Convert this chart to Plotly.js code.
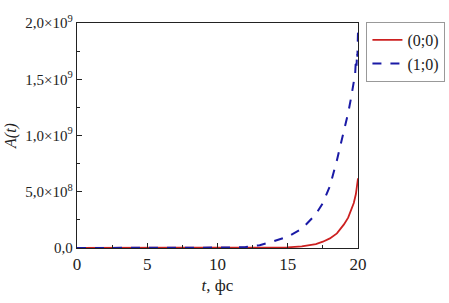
<!DOCTYPE html>
<html><head><meta charset="utf-8">
<script src="https://cdn.plot.ly/plotly-3.0.1.min.js"></script>
<style>html,body{margin:0;padding:0;background:#fff}#c{width:449px;height:303px}
#c text{font-family:"Liberation Serif","Times New Roman",serif !important;}</style>
</head><body><div id="c"></div>
<script>
const t00 = [0,2,4,6,8,10,11,12,13,14,15,16,16.5,17,17.5,18,18.5,19,19.3,19.5,19.7,19.85,20];
const A00 = [0,0,0,0,0,0.0002e9,0.0005e9,0.001e9,0.002e9,0.003e9,0.006e9,0.014e9,0.022e9,0.035e9,0.056e9,0.085e9,0.13e9,0.21e9,0.27e9,0.33e9,0.40e9,0.48e9,0.62e9];
const t10 = [0,2,4,6,8,10,11,12,13,14,15,16,17,17.5,18,18.5,19,19.3,19.5,19.7,19.8,19.85,19.9,19.93,19.96,19.98,20];
const A10 = [0,0,0,0.0005e9,0.001e9,0.002e9,0.004e9,0.009e9,0.025e9,0.06e9,0.10e9,0.17e9,0.30e9,0.40e9,0.55e9,0.78e9,1.03e9,1.2e9,1.33e9,1.48e9,1.55e9,1.68e9,1.62e9,1.74e9,1.70e9,1.82e9,1.92e9];
const xTicks = [0,5,10,15,20];
const yTickVals = [0,5e8,1e9,1.5e9,2e9];
const yTickText = ["0,0","5,0×10<sup>8</sup>","1,0×10<sup>9</sup>","1,5×10<sup>9</sup>","2,0×10<sup>9</sup>"];
const names = ["(0;0)","(1;0)"];

const F = "Liberation Serif";
const data = [
  {x:t00, y:A00, name:names[0], mode:'lines', line:{color:'#cc2020', width:1.8}},
  {x:t10, y:A10, name:names[1], mode:'lines', line:{color:'#1a1aa6', width:2, dash:'dash'}}
];
const layout = {
  width:449, height:303,
  margin:{l:77, r:91, t:23, b:55, autoexpand:false},
  paper_bgcolor:'#fff', plot_bgcolor:'#fff',
  font:{family:F, size:14, color:'#222'},
  showlegend:true,
  legend:{x:1.03, y:1.005, xanchor:'left', yanchor:'top', bordercolor:'#999', borderwidth:1,
          font:{family:F, size:16, color:'#222'}, tracegroupgap:0, itemwidth:30},
  xaxis:{range:[0,20], tickvals:xTicks, ticks:'inside', ticklen:5, tickcolor:'#222',
         showline:true, linecolor:'#222', linewidth:1.2, mirror:true, showgrid:false, zeroline:false,
         tickfont:{family:F, size:17},
         minor:{dtick:2.5, ticks:'inside', ticklen:3, tickcolor:'#222'},
         title:{text:'<i>t</i>, фс', font:{family:F, size:17}, standoff:6}},
  yaxis:{range:[0,2e9], tickvals:yTickVals, ticktext:yTickText, ticks:'inside', ticklen:5, tickcolor:'#222',
         showline:true, linecolor:'#222', linewidth:1.2, mirror:true, showgrid:false, zeroline:false,
         tickfont:{family:F, size:15},
         minor:{dtick:2.5e8, ticks:'inside', ticklen:3, tickcolor:'#222'},
         title:{text:'<i>A(t)</i>', font:{family:F, size:16}, standoff:4}}
};
Plotly.newPlot('c', data, layout, {displayModeBar:false, staticPlot:true});
</script></body></html>
